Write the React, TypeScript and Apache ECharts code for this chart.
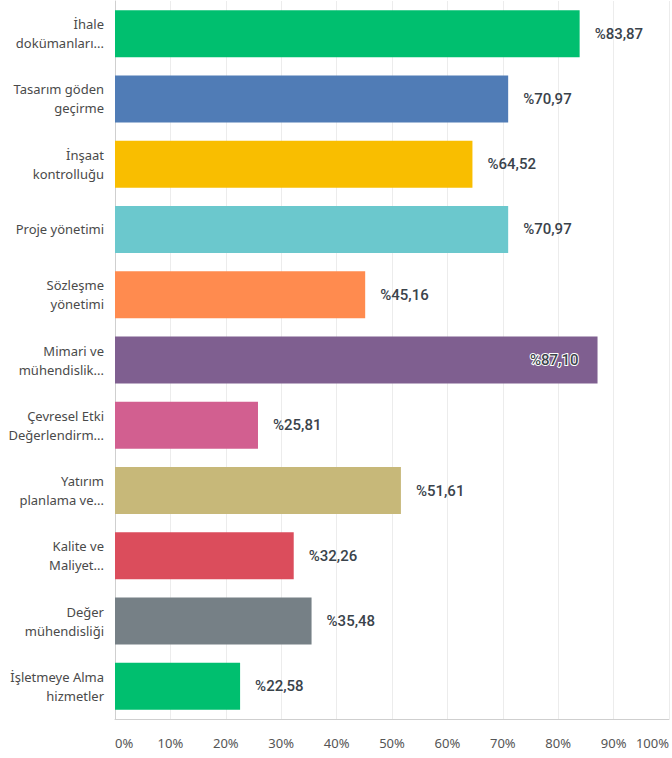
import React, { useEffect, useRef } from "react";
import * as echarts from "echarts";

const categories = [
  "İhale\ndokümanları...",
  "Tasarım göden\ngeçirme",
  "İnşaat\nkontrolluğu",
  "Proje yönetimi",
  "Sözleşme\nyönetimi",
  "Mimari ve\nmühendislik...",
  "Çevresel Etki\nDeğerlendirm...",
  "Yatırım\nplanlama ve...",
  "Kalite ve\nMaliyet...",
  "Değer\nmühendisliği",
  "İşletmeye Alma\nhizmetler",
];

const values = [83.87, 70.97, 64.52, 70.97, 45.16, 87.1, 25.81, 51.61, 32.26, 35.48, 22.58];

const colors = [
  "#00BF6F", "#507CB6", "#F9BE00", "#6BC8CD", "#FF8B4F", "#7F5F90",
  "#D25F90", "#C7B879", "#DB4D5C", "#768086", "#00BF6F",
];

const fmt = (v: number) => "%" + v.toFixed(2).replace(".", ",");

export default function App() {
  const ref = useRef<HTMLDivElement>(null);
  useEffect(() => {
    if (!ref.current) return;
    const chart = echarts.init(ref.current, null, { renderer: "svg" });
    chart.setOption({
      animation: false,
      grid: { left: 115, right: -1, top: 1, bottom: 39, containLabel: false },
      xAxis: {
        type: "value",
        min: 0,
        max: 100,
        interval: 10,
        axisLine: { show: true, lineStyle: { color: "#cfcfcf", width: 1 } },
        axisTick: { show: false },
        splitLine: { show: true, lineStyle: { color: "#ececec", width: 1 } },
        axisLabel: {
          formatter: "{value}%",
          color: "#555",
          fontSize: 13,
          fontFamily: "Noto Sans",
          margin: 17,
          alignMinLabel: "left",
          alignMaxLabel: "right",
        },
      },
      yAxis: {
        type: "category",
        inverse: true,
        data: categories,
        axisLine: { show: true, lineStyle: { color: "#cfcfcf", width: 1 } },
        axisTick: { show: false },
        axisLabel: {
          color: "#4a4a4a",
          fontSize: 13,
          lineHeight: 19,
          fontFamily: "Noto Sans",
          margin: 11,
          align: "right",
        },
      },
      series: [
        {
          type: "bar",
          barCategoryGap: "28%",
          data: values.map((v, i) => ({
            value: v,
            itemStyle: { color: colors[i] },
            label:
              v > 85
                ? {
                    position: "insideRight",
                    distance: 19,
                    textBorderColor: "#fff",
                    textBorderWidth: 2,
                  }
                : undefined,
          })),
          label: {
            show: true,
            position: "right",
            distance: 15,
            formatter: (p: any) => fmt(p.value),
            color: "#3a434b",
            fontSize: 15,
            fontWeight: 500,
            fontFamily: "Roboto",
          },
        },
      ],
    });
    return () => chart.dispose();
  }, []);
  return (
    <div
      ref={ref}
      style={{ position: "absolute", left: 0, top: 0, width: 672, height: 758 }}
    />
  );
}
